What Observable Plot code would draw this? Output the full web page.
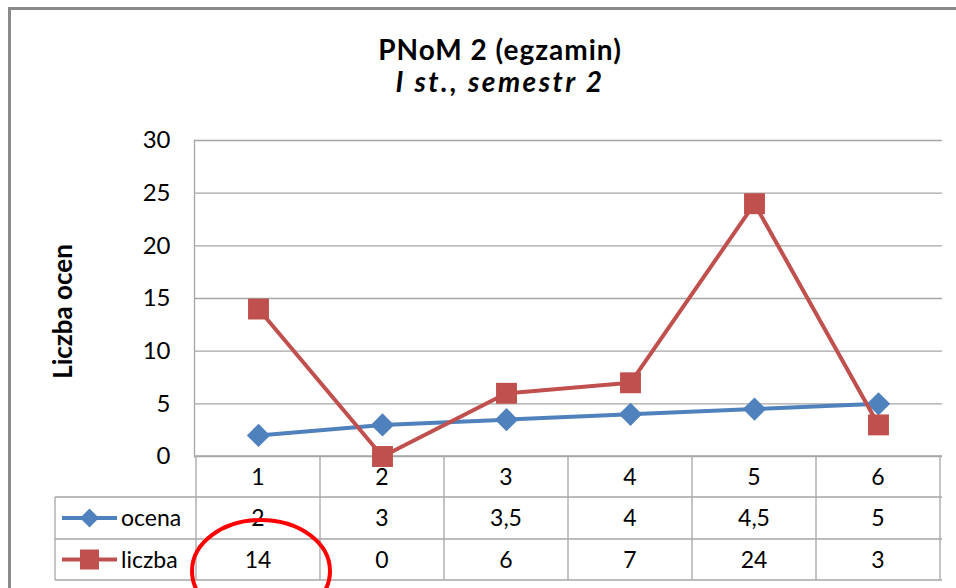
<!DOCTYPE html>
<html><head><meta charset="utf-8">
<script src="https://cdn.jsdelivr.net/npm/d3@7"></script>
<script src="https://cdn.jsdelivr.net/npm/@observablehq/plot@0.6"></script>
<style>
html,body{margin:0;padding:0;background:#fff;}
#wrap{position:relative;width:956px;height:588px;overflow:hidden;font-family:Lato,"Open Sans",sans-serif;color:#000;}
#frame{position:absolute;left:8px;top:7px;width:1200px;height:1200px;border-left:3px solid #8a8a8a;border-top:3px solid #8a8a8a;box-sizing:border-box;}
#titles{position:relative;height:120px;}
.t{position:absolute;left:22px;width:956px;text-align:center;white-space:nowrap;}
#t1{top:37px;font-size:28px;line-height:24px;font-weight:bold;letter-spacing:1px;}
#t2{top:69px;font-size:28px;line-height:24px;font-weight:bold;font-style:italic;letter-spacing:2.5px;}
#chart{position:relative;}
</style>
</head><body>
<div id="wrap">
<div id="frame"></div>
<div id="titles"><div class="t" id="t1">PNoM 2 (egzamin)</div><div class="t" id="t2">I st., semestr 2</div></div>
<div id="chart"></div>
</div>
<script>
const categories = ["1","2","3","4","5","6"];
const ocena = [2, 3, 3.5, 4, 4.5, 5];
const liczba = [14, 0, 6, 7, 24, 3];
const yTicks = [0, 5, 10, 15, 20, 25, 30];
const seriesNames = ["ocena", "liczba"];
const yLabel = "Liczba ocen";

const blue = "#4F81BD", red = "#C0504D";
const fmt = v => String(v).replace(".", ",");

const rowsO = categories.map((c, i) => ({cat: c, v: ocena[i]}));
const rowsL = categories.map((c, i) => ({cat: c, v: liczba[i]}));

function tableMark(index, scales, values, dims) {
  const x = scales.x;
  const step = x(categories[1]) - x(categories[0]);
  const left = dims.marginLeft, right = dims.width - dims.marginRight;
  const y0 = dims.height - dims.marginBottom;
  const rowH = [41, 42, 41];
  const ys = [y0, y0 + rowH[0], y0 + rowH[0] + rowH[1], y0 + rowH[0] + rowH[1] + rowH[2]];
  const legLeft = 55;
  const g = d3.create("svg:g");
  const gridC = "#a6a6a6";
  g.append("line").attr("x1", left).attr("x2", right).attr("y1", ys[0]).attr("y2", ys[0]).attr("stroke", gridC).attr("stroke-width", 1.3);
  for (let k = 1; k < 4; k++) {
    g.append("line").attr("x1", legLeft).attr("x2", right).attr("y1", ys[k]).attr("y2", ys[k]).attr("stroke", gridC).attr("stroke-width", 1.3);
  }
  g.append("line").attr("x1", legLeft).attr("x2", legLeft).attr("y1", ys[1]).attr("y2", ys[3]).attr("stroke", gridC).attr("stroke-width", 1.3);
  const bounds = [x(categories[0]) - step / 2, ...categories.map(c => x(c) + step / 2)];
  bounds.forEach(b => g.append("line").attr("x1", b).attr("x2", b).attr("y1", ys[0]).attr("y2", ys[3]).attr("stroke", gridC).attr("stroke-width", 1.3));
  const txt = g.append("g").attr("font-size", 23).attr("fill", "#000").attr("text-anchor", "middle");
  categories.forEach((c, i) => {
    txt.append("text").attr("x", x(c)).attr("y", (ys[0] + ys[1]) / 2).attr("dy", "0.35em").text(c);
    txt.append("text").attr("x", x(c)).attr("y", (ys[1] + ys[2]) / 2).attr("dy", "0.35em").text(fmt(ocena[i]));
    txt.append("text").attr("x", x(c)).attr("y", (ys[2] + ys[3]) / 2).attr("dy", "0.35em").text(fmt(liczba[i]));
  });
  const keys = [{name: seriesNames[0], color: blue, sym: "diamond"}, {name: seriesNames[1], color: red, sym: "square"}];
  keys.forEach((k, j) => {
    const cy = (ys[j + 1] + ys[j + 2]) / 2;
    g.append("line").attr("x1", 62).attr("x2", 117).attr("y1", cy).attr("y2", cy).attr("stroke", k.color).attr("stroke-width", 4);
    if (k.sym === "square") {
      g.append("rect").attr("x", 89.5 - 9.5).attr("y", cy - 10).attr("width", 19).attr("height", 20).attr("fill", k.color);
    } else {
      g.append("path").attr("d", `M${89.5},${cy - 9.5}L${99},${cy}L${89.5},${cy + 9.5}L${80},${cy}Z`).attr("fill", k.color);
    }
    g.append("text").attr("x", 121).attr("y", cy).attr("dy", "0.35em").attr("text-anchor", "start").attr("font-size", 23).attr("fill", "#000").text(k.name);
  });
  g.append("ellipse").attr("cx", x(categories[0]) + 3).attr("cy", ys[3] - 9).attr("rx", 69).attr("ry", 51)
    .attr("fill", "none").attr("stroke", "#ff0000").attr("stroke-width", 4);
  return g.node();
}

const chart = Plot.plot({
  width: 956,
  height: 468,
  marginLeft: 194,
  marginRight: 14,
  marginTop: 20,
  marginBottom: 132,
  style: {fontFamily: "Lato, 'Open Sans', sans-serif", background: "transparent", overflow: "visible"},
  x: {type: "point", domain: categories, padding: 0.5, axis: null},
  y: {domain: [0, 30], ticks: yTicks, label: null, tickSize: 0, tickPadding: 24, tickFormat: d => String(d)},
  marks: [
    Plot.gridY(yTicks, {stroke: "#a6a6a6", strokeOpacity: 1, strokeWidth: 1.3}),
    Plot.frame({anchor: "left", stroke: "#a6a6a6", strokeWidth: 1.3}),
    Plot.axisY(yTicks, {tickSize: 0, tickPadding: 24, fontSize: 24, fill: "#000", label: null, tickFormat: d => String(d)}),
    Plot.text([yLabel], {frameAnchor: "left", textAnchor: "middle", text: d => d, rotate: -90, dx: -131, dy: 13, fontSize: 26, fontWeight: "bold", fill: "#000"}),
    tableMark,
    Plot.line(rowsO, {x: "cat", y: "v", stroke: blue, strokeWidth: 4}),
    Plot.dot(rowsO, {x: "cat", y: "v", symbol: "diamond2", r: 10.5, fill: blue, stroke: "none"}),
    Plot.line(rowsL, {x: "cat", y: "v", stroke: red, strokeWidth: 4}),
    Plot.dot(rowsL, {x: "cat", y: "v", symbol: "square", r: 11.8, fill: red, stroke: "none"})
  ]
});
document.getElementById("chart").appendChild(chart);
</script>
</body></html>
